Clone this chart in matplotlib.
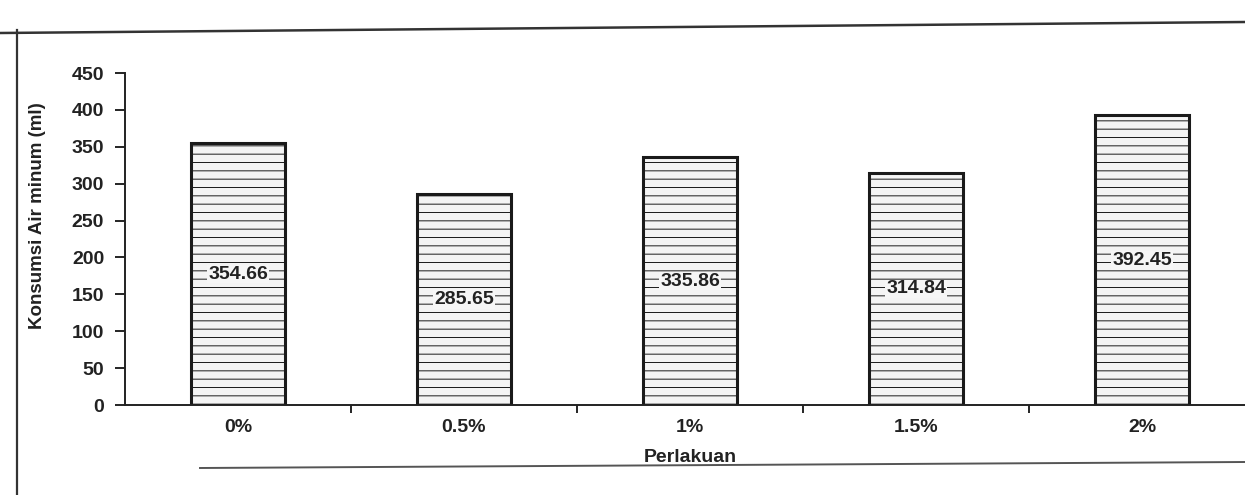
import matplotlib
matplotlib.use("Agg")
import matplotlib.pyplot as plt
from matplotlib.lines import Line2D
import numpy as np

plt.rcParams["font.family"] = ["Liberation Sans", "DejaVu Sans"]
plt.rcParams["hatch.color"] = "#c4c4c4"
plt.rcParams["hatch.linewidth"] = 0.7

# treatment levels and mean water consumption (ml)
perlakuan = ["0%", "0.5%", "1%", "1.5%", "2%"]
konsumsi = [354.66, 285.65, 335.86, 314.84, 392.45]
yticks = [0, 50, 100, 150, 200, 250, 300, 350, 400, 450]

W, H = 1245, 495
fig = plt.figure(figsize=(W / 100, H / 100), dpi=100)

# chart area border
fig.add_artist(Line2D([17 / W, 17 / W], [0, 1 - 30 / H], color="#333333", lw=1.6))
fig.add_artist(Line2D([0, 1], [1 - 33 / H, 1 - 22 / H], color="#333333", lw=1.8))
fig.add_artist(Line2D([200 / W, 1], [1 - 468 / H, 1 - 462 / H], color="#555555", lw=1.4))

ax = fig.add_axes([125 / W, 1 - 405 / H, 1130 / W, 332 / H])
x = np.arange(len(perlakuan))
ax.bar(x, konsumsi, width=0.42, facecolor="#f4f4f4", edgecolor="#1a1a1a",
       linewidth=2.2, hatch="--", zorder=2)

for xi, v in zip(x, konsumsi):
    ax.text(xi, v / 2, f"{v:.2f}", ha="center", va="center", fontsize=14,
            fontweight="bold", color="#222222", zorder=3,
            bbox=dict(facecolor="#f6f6f6", edgecolor="none", pad=0.5))

ax.set_xlim(-0.5, 4.5)
ax.set_ylim(0, 450)
ax.set_yticks(yticks)
ax.set_xticks(x)
ax.set_xticklabels(perlakuan)
ax.set_xticks(x[:-1] + 0.5, minor=True)
ax.tick_params(axis="x", which="major", length=0, pad=10, labelsize=14)
ax.tick_params(axis="x", which="minor", length=6, width=1.2, direction="out")
ax.tick_params(axis="y", length=7, width=1.2, direction="out", labelsize=14, pad=8)
for lab in ax.get_xticklabels() + ax.get_yticklabels():
    lab.set_fontweight("bold")
    lab.set_color("#222222")

for side in ["top", "right"]:
    ax.spines[side].set_visible(False)
for side in ["left", "bottom"]:
    ax.spines[side].set_linewidth(1.4)
    ax.spines[side].set_color("#222222")

ax.set_ylabel("Konsumsi Air minum (ml)", fontsize=13.5, fontweight="bold", color="#222222")
ax.yaxis.set_label_coords((46 - 125) / 1130, 0.57)
fig.text(690 / W, 1 - 457 / H, "Perlakuan", ha="center", va="center",
         fontsize=14, fontweight="bold", color="#222222")

fig.savefig("out.png", dpi=100)
